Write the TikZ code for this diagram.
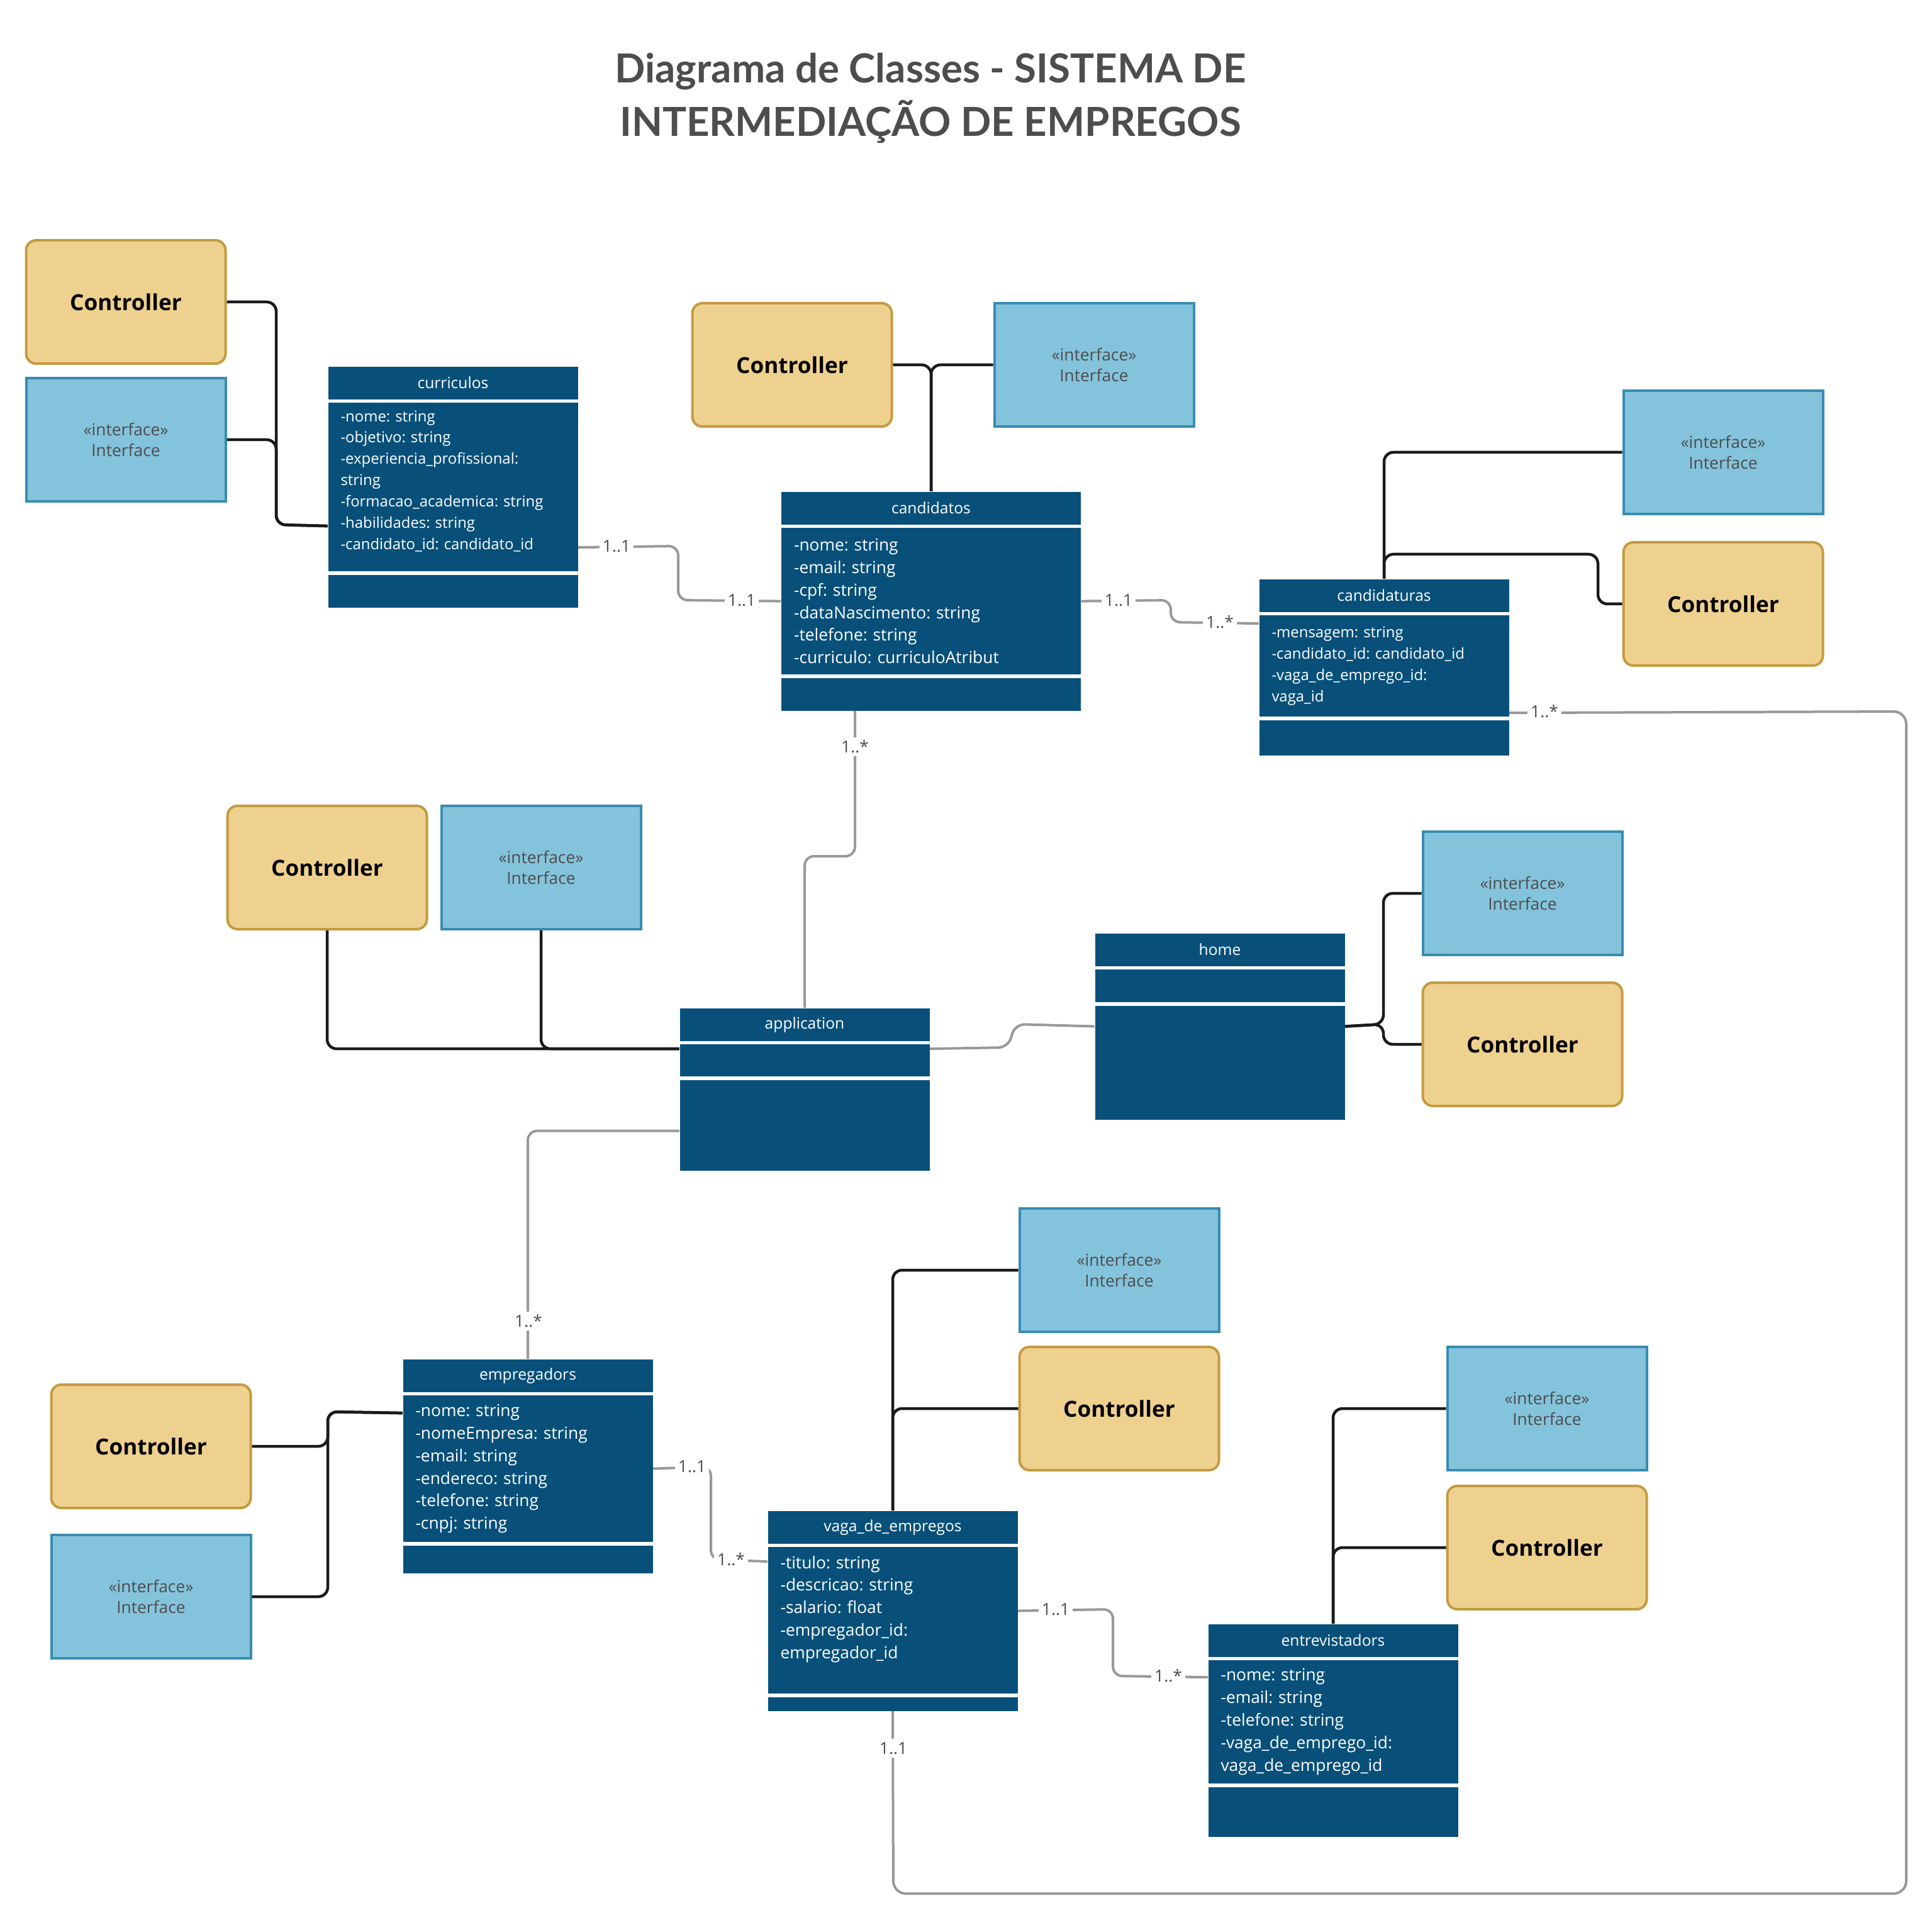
\documentclass[tikz,border=0pt]{standalone}
\usepackage{fontspec}
\setmainfont{Open Sans}
\newfontfamily\titlefont{Lato}
\usetikzlibrary{positioning}
\frenchspacing

\definecolor{classblue}{RGB}{8,80,122}
\definecolor{ctrlfill}{RGB}{239,209,143}
\definecolor{ctrldraw}{RGB}{195,155,64}
\definecolor{intffill}{RGB}{132,195,220}
\definecolor{intfdraw}{RGB}{55,140,175}
\definecolor{textgray}{RGB}{77,77,77}
\definecolor{assocgray}{RGB}{153,153,153}
\definecolor{linkblack}{RGB}{26,26,26}

\tikzset{
  title/.style={align=center,text=textgray,font=\titlefont\fontsize{18.1}{24.4}\selectfont\bfseries},
  ctrlbox/.style={draw=ctrldraw,fill=ctrlfill,line width=0.04cm,rounded corners=0.16cm,
    minimum width=3.17cm,minimum height=1.96cm,font=\fontsize{10}{12}\selectfont\bfseries},
  intfbox/.style={draw=intfdraw,fill=intffill,line width=0.04cm,minimum width=3.17cm,
    minimum height=1.96cm,align=center,text=textgray,font=\fontsize{7.5}{9.5}\selectfont},
  classhead/.style={fill=classblue,text=white,minimum width=3.97cm,minimum height=0.52cm,
    inner sep=0pt,anchor=north,font=\fontsize{7}{9}\selectfont},
  classbody/.style={fill=classblue,text=white,text width=3.57cm,inner xsep=0.2cm,
    inner ysep=0pt,align=left,font=\fontsize{7.5}{10.2}\selectfont},
  smallbody/.style={classbody,font=\fontsize{6.8}{9.64}\selectfont},
  link/.style={draw=linkblack,line width=0.045cm,rounded corners=0.15cm},
  assoc/.style={draw=assocgray,line width=0.04cm,rounded corners=0.15cm},
  mult/.style={fill=white,text=textgray,inner sep=1.5pt,font=\fontsize{7.5}{9}\selectfont},
}

\begin{document}
\begin{tikzpicture}
\useasboundingbox (0,0) rectangle (30.71,-30.52);

\node[title] (title) at (14.79,-1.56) {Diagrama de Classes - SISTEMA DE\\INTERMEDIAÇÃO DE EMPREGOS};

% controllers and interfaces
\node[ctrlbox] (ctrlA) at (2.00,-4.80) {Controller};
\node[intfbox] (intfA) at (2.00,-6.99) {«interface»\\Interface};
\node[ctrlbox] (ctrlB) at (12.59,-5.80) {Controller};
\node[intfbox] (intfB) at (17.39,-5.80) {«interface»\\Interface};
\node[intfbox] (intfC) at (27.39,-7.19) {«interface»\\Interface};
\node[ctrlbox] (ctrlC) at (27.39,-9.60) {Controller};
\node[ctrlbox] (ctrlD) at (5.20,-13.79) {Controller};
\node[intfbox] (intfD) at (8.60,-13.79) {«interface»\\Interface};
\node[intfbox] (intfE) at (24.20,-14.20) {«interface»\\Interface};
\node[ctrlbox] (ctrlE) at (24.20,-16.60) {Controller};
\node[intfbox] (intfF) at (17.79,-20.19) {«interface»\\Interface};
\node[ctrlbox] (ctrlF) at (17.79,-22.39) {Controller};
\node[intfbox] (intfG) at (24.59,-22.39) {«interface»\\Interface};
\node[ctrlbox] (ctrlG) at (24.59,-24.60) {Controller};
\node[ctrlbox] (ctrlH) at (2.40,-22.99) {Controller};
\node[intfbox] (intfH) at (2.40,-25.38) {«interface»\\Interface};

% classes
\node[classhead] (curriculos) at (7.20,-5.82) {curriculos};
\node[smallbody,below=0.04cm of curriculos,minimum height=2.68cm] (curriculosattr)
  {\parbox[c][2.68cm][t]{3.57cm}{\rule{0pt}{0.30cm}-nome: string\\-objetivo: string\\-experiencia\_profissional:\\string\\-formacao\_academica: string\\-habilidades: string\\-candidato\_id: candidato\_id}};
\node[classbody,below=0.04cm of curriculosattr,minimum height=0.52cm] (curriculosops) {};

\node[classhead,minimum width=4.76cm] (candidatos) at (14.80,-7.81) {candidatos};
\node[classbody,text width=4.36cm,below=0.04cm of candidatos,minimum height=2.33cm] (candidatosattr)
  {-nome: string\\-email: string\\-cpf: string\\-dataNascimento: string\\-telefone: string\\-curriculo: curriculoAtribut};
\node[classbody,text width=4.36cm,below=0.04cm of candidatosattr,minimum height=0.52cm] (candidatosops) {};

\node[classhead] (candidaturas) at (22.00,-9.20) {candidaturas};
\node[smallbody,below=0.04cm of candidaturas,minimum height=1.61cm] (candidaturasattr)
  {-mensagem: string\\-candidato\_id: candidato\_id\\-vaga\_de\_emprego\_id:\\vaga\_id};
\node[classbody,below=0.04cm of candidaturasattr,minimum height=0.56cm] (candidaturasops) {};

\node[classhead] (application) at (12.79,-16.02) {application};
\node[classbody,below=0.04cm of application,minimum height=0.51cm] (applicationattr) {};
\node[classbody,below=0.04cm of applicationattr,minimum height=1.44cm] (applicationops) {};

\node[classhead] (home) at (19.39,-14.83) {home};
\node[classbody,below=0.04cm of home,minimum height=0.52cm] (homeattr) {};
\node[classbody,below=0.04cm of homeattr,minimum height=1.81cm] (homeops) {};

\node[classhead] (empregadores) at (8.39,-21.60) {empregadors};
\node[classbody,below=0.04cm of empregadores,minimum height=2.33cm] (empregadoresattr)
  {-nome: string\\-nomeEmpresa: string\\-email: string\\-endereco: string\\-telefone: string\\-cnpj: string};
\node[classbody,below=0.04cm of empregadoresattr,minimum height=0.44cm] (empregadoresops) {};

\node[classhead] (vaga) at (14.19,-24.01) {vaga\_de\_empregos};
\node[classbody,below=0.04cm of vaga,minimum height=2.33cm] (vagaattr)
  {\parbox[c][2.33cm][t]{3.57cm}{\rule{0pt}{0.34cm}-titulo: string\\-descricao: string\\-salario: float\\-empregador\_id:\\empregador\_id}};
\node[classbody,below=0.04cm of vagaattr,minimum height=0.22cm] (vagaops) {};

\node[classhead] (entrevistadores) at (21.19,-25.81) {entrevistadors};
\node[classbody,below=0.04cm of entrevistadores,minimum height=1.96cm] (entrevistadoresattr)
  {-nome: string\\-email: string\\-telefone: string\\-vaga\_de\_emprego\_id:\\vaga\_de\_emprego\_id};
\node[classbody,below=0.04cm of entrevistadoresattr,minimum height=0.79cm] (entrevistadoresops) {};

% controller / interface links
\draw[link] (ctrlA.east) -- (4.39,-4.80) -- (4.39,-8.34) -- ([yshift=-0.62cm]curriculosattr.west);
\draw[link] (intfA.east) -- (4.39,-6.99) -- (4.39,-8.34) -- ([yshift=-0.62cm]curriculosattr.west);
\draw[link] (ctrlB.east) -| (candidatos.north);
\draw[link] (intfB.west) -| (candidatos.north);
\draw[link] (candidaturas.north) |- (intfC.west);
\draw[link] (candidaturas.north) -- (22.00,-8.81) -- (25.40,-8.81) -- (25.40,-9.60) -- (ctrlC.west);
\draw[link] (ctrlD.south) |- ([yshift=0.185cm]applicationattr.west);
\draw[link] (intfD.south) |- ([yshift=0.185cm]applicationattr.west);
\draw[link] ([yshift=0.575cm]homeops.east) -- (21.99,-16.28) -- (21.99,-14.20) -- (intfE.west);
\draw[link] ([yshift=0.575cm]homeops.east) -- (21.99,-16.28) -- (21.99,-16.60) -- (ctrlE.west);
\draw[link] (vaga.north) |- (intfF.west);
\draw[link] (vaga.north) |- (ctrlF.west);
\draw[link] (entrevistadores.north) |- (intfG.west);
\draw[link] (entrevistadores.north) |- (ctrlG.west);
\draw[link] ([yshift=0.885cm]empregadoresattr.west) -- (5.21,-22.44) -- (5.21,-22.99) -- (ctrlH.east);
\draw[link] ([yshift=0.885cm]empregadoresattr.west) -- (5.21,-22.44) -- (5.21,-25.38) -- (intfH.east);

% associations
\draw[assoc] ([yshift=-0.96cm]curriculosattr.east) -- (10.78,-8.68) -- (10.78,-9.54) -- (candidatosattr.west);
\draw[assoc] (candidatosattr.east) -- (18.61,-9.54) -- (18.61,-9.89) -- ([yshift=0.675cm]candidaturasattr.west);
\draw[assoc] ([xshift=-1.21cm]candidatosops.south) -- (13.59,-13.61) -| (application.north);
\draw[assoc,rounded corners=0.2cm] ([yshift=-0.745cm]candidaturasattr.east) -- (30.30,-11.31) -- (30.30,-30.10) -- (14.20,-30.10) -- (vagaops.south);
\draw[assoc] ([yshift=-0.09cm]applicationops.west) -| (empregadores.north);
\draw[assoc] ([yshift=0.185cm]applicationattr.east) -- (16.02,-16.65) -- (16.14,-16.28) -- ([yshift=0.575cm]homeops.west);
\draw[assoc] (empregadoresattr.east) -- (11.30,-23.31) -- (11.30,-24.79) -- ([yshift=0.935cm]vagaattr.west);
\draw[assoc] ([yshift=0.15cm]vagaattr.east) -- (17.69,-25.58) -- (17.69,-26.64) -- ([yshift=0.71cm]entrevistadoresattr.west);

% multiplicities
\node[mult] (m1) at (9.80,-8.68) {1..1};
\node[mult] (m2) at (11.79,-9.54) {1..1};
\node[mult] (m3) at (17.78,-9.54) {1..1};
\node[mult] (m4) at (19.39,-9.89) {1..*};
\node[mult] (m5) at (13.59,-11.87) {1..*};
\node[mult] (m6) at (24.55,-11.31) {1..*};
\node[mult] (m7) at (14.20,-27.79) {1..1};
\node[mult] (m8) at (8.40,-21.00) {1..*};
\node[mult] (m9) at (11.00,-23.31) {1..1};
\node[mult] (m10) at (11.62,-24.79) {1..*};
\node[mult] (m11) at (16.78,-25.58) {1..1};
\node[mult] (m12) at (18.57,-26.64) {1..*};
\end{tikzpicture}
\end{document}
